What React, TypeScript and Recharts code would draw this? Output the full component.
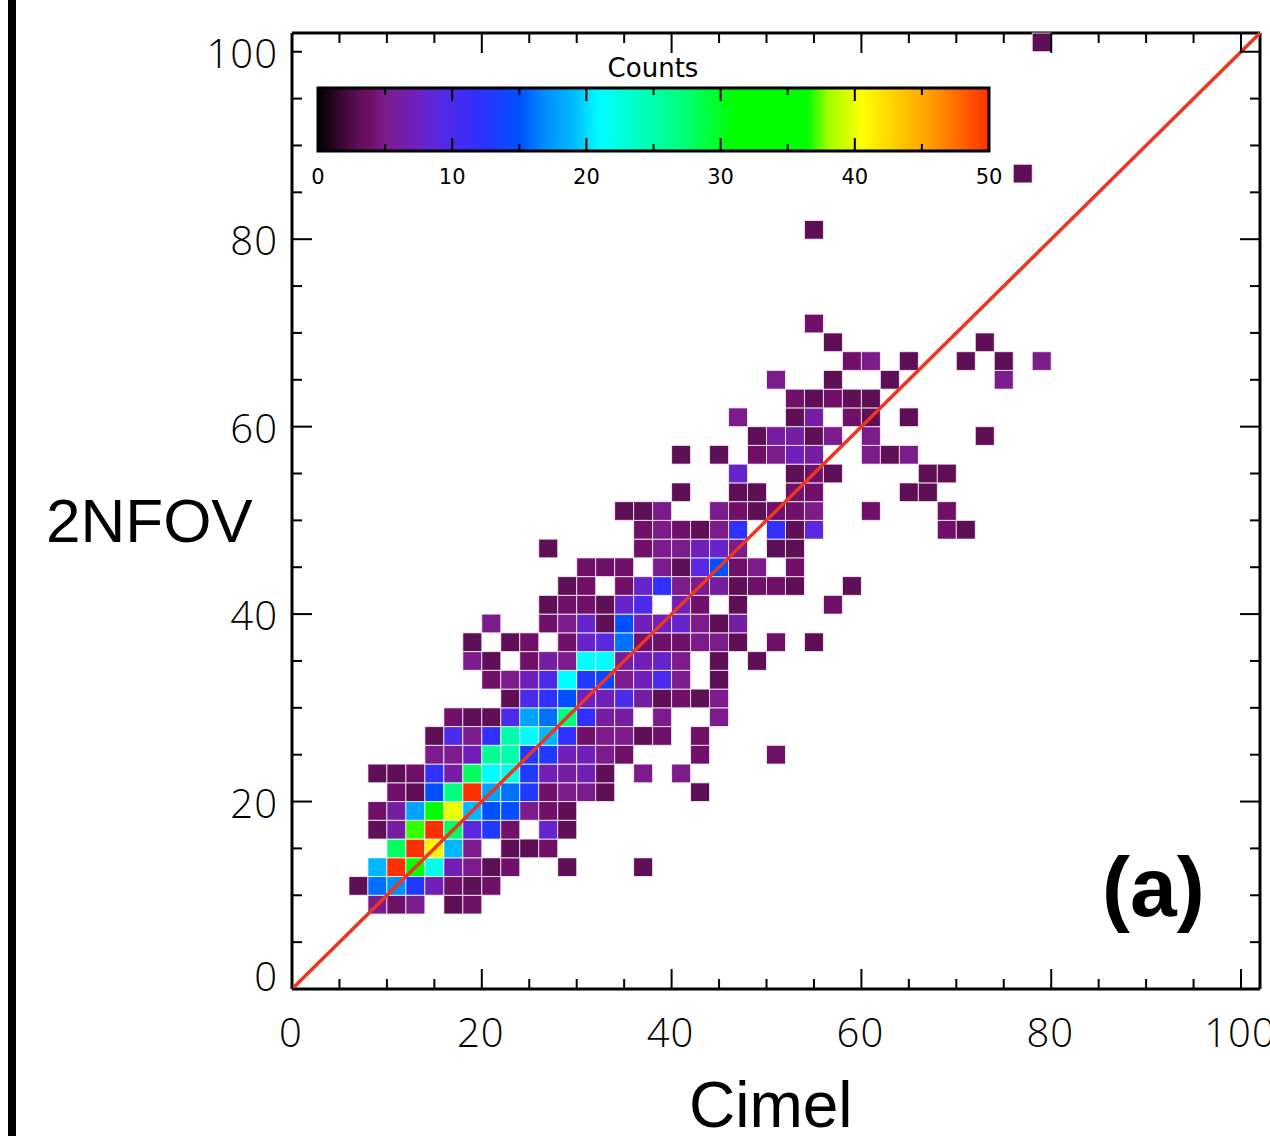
import React from "react";
import { ScatterChart, Scatter, XAxis, YAxis, ReferenceArea } from "recharts";

// Bin counts, one list per 2-unit row of the 2NFOV axis: [Cimel bin, count]
const row8 = [[8,5],[10,4],[12,5],[16,3],[18,4]];
const row10 = [[6,3],[8,16],[10,17],[12,13],[14,7],[16,4],[18,3],[20,4]];
const row12 = [[8,19],[10,50],[12,32],[14,22],[16,7],[18,5],[20,3],[22,4],[28,3],[36,3]];
const row14 = [[10,28],[12,50],[14,41],[16,19],[18,5],[22,3],[24,3],[26,4]];
const row16 = [[8,3],[10,6],[12,37],[14,50],[16,28],[18,9],[20,13],[22,4],[26,8],[28,3]];
const row18 = [[8,4],[10,6],[12,18],[14,32],[16,40],[18,19],[20,15],[22,15],[24,5],[26,4],[28,3]];
const row20 = [[10,4],[12,3],[14,15],[16,27],[18,50],[20,18],[22,16],[24,13],[26,4],[28,5],[30,5],[32,3],[42,3]];
const row22 = [[8,3],[10,3],[12,4],[14,12],[16,6],[18,28],[20,21],[22,22],[24,13],[26,7],[28,6],[30,7],[32,3],[36,5],[40,5]];
const row24 = [[14,5],[16,5],[18,7],[20,26],[22,25],[24,13],[26,13],[28,7],[30,7],[32,5],[34,4],[42,4],[50,4]];
const row26 = [[14,3],[16,10],[18,5],[20,12],[22,25],[24,21],[26,19],[28,12],[30,4],[32,5],[34,5],[36,3],[38,4],[42,4]];
const row28 = [[16,4],[18,3],[20,3],[22,10],[24,18],[26,16],[28,27],[30,12],[32,6],[34,6],[38,5],[44,5]];
const row30 = [[22,3],[24,10],[26,12],[28,15],[30,7],[32,7],[34,10],[36,6],[38,3],[40,4],[42,3],[44,5]];
const row32 = [[20,4],[22,5],[24,7],[26,10],[28,21],[30,13],[32,14],[34,5],[36,7],[38,10],[40,5],[44,3]];
const row34 = [[18,5],[20,3],[24,4],[26,6],[28,5],[30,21],[32,21],[34,6],[36,7],[38,8],[40,5],[44,3],[48,3]];
const row36 = [[18,3],[22,3],[24,4],[28,4],[30,8],[32,9],[34,16],[36,4],[38,4],[40,4],[42,5],[44,5],[46,3],[50,4],[54,3]];
const row38 = [[20,5],[26,4],[28,5],[30,8],[32,3],[34,15],[36,7],[38,7],[40,8],[42,5],[44,3],[46,6]];
const row40 = [[26,3],[28,4],[30,4],[32,3],[34,8],[36,10],[40,7],[42,4],[46,3],[56,4]];
const row42 = [[28,3],[30,4],[34,4],[36,8],[38,12],[40,5],[42,5],[44,6],[46,3],[48,4],[50,4],[52,3],[58,3]];
const row44 = [[30,4],[32,4],[34,4],[38,5],[40,3],[42,9],[44,15],[46,4],[48,5],[52,4]];
const row46 = [[26,3],[36,4],[38,5],[40,5],[42,7],[44,8],[46,5],[50,3],[52,3]];
const row48 = [[36,4],[38,5],[40,4],[42,3],[44,5],[46,12],[50,12],[52,3],[54,9],[68,4],[70,3]];
const row50 = [[34,3],[36,3],[38,5],[44,5],[46,4],[48,3],[50,4],[52,4],[54,5],[60,4],[68,4]];
const row52 = [[40,3],[46,3],[48,3],[52,4],[54,4],[64,3],[66,3]];
const row54 = [[46,8],[52,3],[54,4],[56,3],[66,3],[68,3]];
const row56 = [[40,3],[44,3],[48,4],[50,5],[52,7],[54,6],[60,5],[62,3],[64,5]];
const row58 = [[48,3],[50,6],[52,6],[54,3],[56,5],[60,5],[72,3]];
const row60 = [[46,5],[52,3],[54,6],[58,4],[60,3],[64,3]];
const row62 = [[52,4],[54,3],[56,4],[58,3],[60,3]];
const row64 = [[50,5],[56,3],[62,3],[74,5]];
const row66 = [[58,4],[60,5],[64,3],[70,3],[74,3],[78,5]];
const row68 = [[56,3],[72,3]];
const row70 = [[54,4]];
const row80 = [[54,3]];
const row86 = [[76,3]];
const row100 = [[78,3]];

const rowBins = [8,10,12,14,16,18,20,22,24,26,28,30,32,34,36,38,40,42,44,46,48,50,52,54,56,58,60,62,64,66,68,70,80,86,100];
const rowCells = [row8,row10,row12,row14,row16,row18,row20,row22,row24,row26,row28,row30,row32,row34,row36,row38,row40,row42,row44,row46,row48,row50,row52,row54,row56,row58,row60,row62,row64,row66,row68,row70,row80,row86,row100];

const axisTicks = [0,5,10,15,20,25,30,35,40,45,50,55,60,65,70,75,80,85,90,95,100];
const labelledTicks = [0,20,40,60,80,100];
const barTicks = [0,5,10,15,20,25,30,35,40,45,50];
const barLabels = [0,10,20,30,40,50];
const lineEnds = [0,102];

// colour scale: [count, colour]
const scaleStops: [number,string][] = [
  [0,"#000000"],[3,"#5f0f55"],[4,"#701068"],[5,"#7c1c8c"],[7,"#7020b8"],[9,"#5a28e0"],[12,"#3030ff"],
  [15,"#0050ff"],[17,"#0090ff"],[19,"#00b8ff"],[21,"#00ffff"],[24,"#00ffc0"],[27,"#00ff80"],[31,"#00ff00"],
  [36.5,"#00ff00"],[38,"#a0ff00"],[40.5,"#ffff00"],[45.5,"#ffa000"],[50,"#ff3000"],
];

const hex = (c: string) => [1,3,5].map(i => parseInt(c.slice(i,i+2),16));
function colourOf(v: number) {
  for (let i = 1; i < scaleStops.length; i++) {
    const [a, ca] = scaleStops[i-1];
    const [b, cb] = scaleStops[i];
    if (v <= b) {
      const t = (v-a)/(b-a);
      const A = hex(ca), B = hex(cb);
      return `rgb(${A.map((x,k)=>Math.round(x+(B[k]-x)*t)).join(",")})`;
    }
  }
  return scaleStops[scaleStops.length-1][1];
}

const cells = rowBins.flatMap((y,i) => rowCells[i].map(([x,count]) => ({ x: x+1, y: y+1, count })));
const lineData = lineEnds.map(v => ({ x: v, y: v }));
const barData = barLabels.map(x => ({ x, y: 0.5 }));

const NUM = "'Open Sans', sans-serif";
const SANS = "'Liberation Sans', Arial, sans-serif";
const HERSHEY = "'DejaVu Sans', sans-serif";

const CellShape = (p: any) => (
  <rect x={p.cx-9.5} y={p.cy-9.35} width={19} height={18.7} fill={colourOf(p.payload.count)} stroke="#fff" strokeOpacity={0.75} strokeWidth={1} />
);
const NoPoint = () => <g />;

const BottomTick = ({ x, y, payload }: any) => {
  const major = labelledTicks.includes(payload.value);
  return <g>
    <line x1={x} x2={x} y1={y} y2={y-(major?20:10)} stroke="#000" strokeWidth={2} />
    {major && <text x={x-1} y={y+58} textAnchor="middle" fontFamily={NUM} fontWeight={300} fontSize={40} letterSpacing={1} fill="#000">{payload.value}</text>}
  </g>;
};
const TopTick = ({ x, y, payload }: any) => {
  const major = labelledTicks.includes(payload.value);
  return <g><line x1={x} x2={x} y1={y} y2={y+(major?20:10)} stroke="#000" strokeWidth={2} /></g>;
};
const LeftTick = ({ x, y, payload }: any) => {
  const v = payload.value;
  const major = labelledTicks.includes(v);
  return <g>
    <line x1={x} x2={x+(major&&v!==100?20:10)} y1={y} y2={y} stroke="#000" strokeWidth={2} />
    {major && <text x={x-14} y={y+(v===0?2:16)} textAnchor="end" fontFamily={NUM} fontWeight={300} fontSize={40} letterSpacing={1} fill="#000">{v}</text>}
  </g>;
};
const RightTick = ({ x, y, payload }: any) => {
  const major = labelledTicks.includes(payload.value);
  return <g><line x1={x} x2={x-(major?20:10)} y1={y} y2={y} stroke="#000" strokeWidth={2} /></g>;
};
const BarBottomTick = ({ x, y, payload }: any) => {
  const major = barLabels.includes(payload.value);
  return <g>
    <line x1={x} x2={x} y1={y} y2={y-(major?13:7)} stroke="#000" strokeWidth={2} />
    {major && <text x={x} y={y+33} textAnchor="middle" fontFamily={HERSHEY} fontSize={21} fill="#000">{payload.value}</text>}
  </g>;
};
const BarTopTick = ({ x, y, payload }: any) => {
  const major = barLabels.includes(payload.value);
  return <g><line x1={x} x2={x} y1={y} y2={y+(major?13:7)} stroke="#000" strokeWidth={2} /></g>;
};

const axisLine = { stroke: "#000", strokeWidth: 3 };

export default function App() {
  return (
    <div style={{ position: "absolute", left: 0, top: 0, width: 1270, height: 1136, overflow: "hidden", background: "#fff" }}>
      <div style={{ position: "absolute", left: 8, top: 0, width: 7.5, height: 1136, background: "#000" }} />
      <ScatterChart width={1270} height={1136} margin={{ left: 291, right: 9, top: 32, bottom: 146 }} style={{ position: "absolute", left: 0, top: 0 }}>
        <XAxis xAxisId="b" type="number" dataKey="x" domain={[0,102]} ticks={axisTicks} interval={0} height={1} tickLine={false} tickSize={0} tickMargin={0} axisLine={axisLine} tick={<BottomTick />} />
        <XAxis xAxisId="t" orientation="top" type="number" dataKey="x" domain={[0,102]} ticks={axisTicks} interval={0} height={1} tickLine={false} tickSize={0} tickMargin={0} axisLine={axisLine} tick={<TopTick />} />
        <YAxis yAxisId="l" type="number" dataKey="y" domain={[0,102]} ticks={axisTicks} interval={0} width={1} tickLine={false} tickSize={0} tickMargin={0} axisLine={axisLine} tick={<LeftTick />} />
        <YAxis yAxisId="r" orientation="right" type="number" dataKey="y" domain={[0,102]} ticks={axisTicks} interval={0} width={1} tickLine={false} tickSize={0} tickMargin={0} axisLine={axisLine} tick={<RightTick />} />
        <Scatter xAxisId="t" yAxisId="r" data={lineData} isAnimationActive={false} shape={<NoPoint />} />
        <Scatter xAxisId="b" yAxisId="l" data={cells} isAnimationActive={false} shape={<CellShape />} />
        <Scatter xAxisId="b" yAxisId="l" data={lineData} isAnimationActive={false} shape={<NoPoint />} line={{ stroke: "#ee3520", strokeWidth: 3.5 }} />
        <text x={46} y={542} fontFamily={SANS} fontSize={62} fill="#000">2NFOV</text>
        <text x={689} y={1127} fontFamily={SANS} fontSize={64} fill="#000">Cimel</text>
        <text x={1102} y={916} fontFamily={SANS} fontWeight={700} fontSize={84} fill="#000">(a)</text>
      </ScatterChart>
      <ScatterChart width={720} height={150} margin={{ left: 28, right: 21, top: 37, bottom: 48 }} style={{ position: "absolute", left: 290, top: 50 }}>
        <defs>
          <linearGradient id="countsScale" x1="0" x2="1" y1="0" y2="0">
            {scaleStops.map(([v,c]) => <stop key={v} offset={`${v*2}%`} stopColor={c} />)}
          </linearGradient>
        </defs>
        <XAxis xAxisId="b" type="number" dataKey="x" domain={[0,50]} ticks={barTicks} interval={0} height={1} tickLine={false} tickSize={0} tickMargin={0} axisLine={false} tick={<BarBottomTick />} />
        <XAxis xAxisId="t" orientation="top" type="number" dataKey="x" domain={[0,50]} ticks={barTicks} interval={0} height={1} tickLine={false} tickSize={0} tickMargin={0} axisLine={false} tick={<BarTopTick />} />
        <YAxis yAxisId="l" type="number" dataKey="y" domain={[0,1]} hide width={1} />
        <Scatter xAxisId="t" yAxisId="l" data={barData} isAnimationActive={false} shape={<NoPoint />} />
        <Scatter xAxisId="b" yAxisId="l" data={barData} isAnimationActive={false} shape={<NoPoint />} />
        <ReferenceArea xAxisId="b" yAxisId="l" x1={0} x2={50} y1={0} y2={1} fill="url(#countsScale)" fillOpacity={1} stroke="#000" strokeWidth={3} />
        <text x={363} y={27} textAnchor="middle" fontFamily={HERSHEY} fontSize={26} fill="#000">Counts</text>
      </ScatterChart>
    </div>
  );
}
